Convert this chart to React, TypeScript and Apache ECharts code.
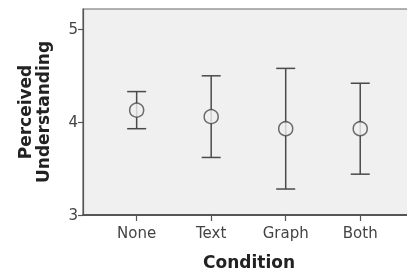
import React, { useEffect, useRef } from "react";
import * as echarts from "echarts";

const categories = ["None", "Text", "Graph", "Both"];
const means = [4.13, 4.06, 3.93, 3.93];
const upper = [4.33, 4.5, 4.58, 4.42];
const lower = [3.93, 3.62, 3.28, 3.44];
const yTicks = [3, 4, 5];
const xPositions = [1, 2, 3, 4];

export default function App() {
  const ref = useRef<HTMLDivElement>(null);
  useEffect(() => {
    if (!ref.current) return;
    const chart = echarts.init(ref.current, null, { renderer: "svg" });
    const font = "DejaVu Sans";
    const axisColor = "#555";
    chart.setOption({
      animation: false,
      grid: {
        left: 83,
        right: 5,
        top: 9,
        bottom: 57,
        outerBoundsMode: "none",
        containLabel: false,
        show: true,
        backgroundColor: "#f0f0f0",
        borderColor: "#666",
        borderWidth: 1.2,
      },
      xAxis: {
        type: "value",
        min: 0.28,
        max: 4.735,
        name: "Condition",
        nameLocation: "middle",
        nameGap: 38,
        nameTextStyle: { fontFamily: font, fontWeight: "bold", fontSize: 17, color: "#222" },
        axisLine: { show: true, lineStyle: { color: axisColor, width: 2 } },
        axisTick: { show: true, customValues: xPositions, length: 6, lineStyle: { color: axisColor, width: 1.2 } },
        axisLabel: {
          customValues: xPositions,
          formatter: (v: number) => categories[Math.round(v) - 1] ?? "",
          fontFamily: font,
          fontSize: 15,
          color: "#444",
          margin: 10,
        },
        splitLine: { show: false },
      },
      yAxis: {
        type: "value",
        min: 3,
        max: 5.22,
        name: "Perceived\nUnderstanding",
        nameLocation: "middle",
        nameGap: 31,
        nameTextStyle: { fontFamily: font, fontWeight: "bold", fontSize: 17, color: "#222", lineHeight: 18 },
        axisLine: { show: true, lineStyle: { color: axisColor, width: 1.2 } },
        axisTick: { show: true, customValues: yTicks, length: 5, lineStyle: { color: axisColor, width: 1.2 } },
        axisLabel: {
          customValues: yTicks,
          fontFamily: font,
          fontSize: 15,
          color: "#444",
          margin: 5,
        },
        splitLine: { show: false },
      },
      series: [
        {
          type: "custom",
          data: xPositions.map((x, i) => [x, lower[i], upper[i]]),
          renderItem: (params: any, api: any) => {
            const x = api.value(0);
            const lo = api.coord([x, api.value(1)]);
            const hi = api.coord([x, api.value(2)]);
            const half = 9.5;
            const style = { stroke: "#4a4a4a", lineWidth: 1.5 };
            return {
              type: "group",
              children: [
                { type: "line", shape: { x1: lo[0], y1: lo[1], x2: hi[0], y2: hi[1] }, style },
                { type: "line", shape: { x1: hi[0] - half, y1: hi[1], x2: hi[0] + half, y2: hi[1] }, style },
                { type: "line", shape: { x1: lo[0] - half, y1: lo[1], x2: lo[0] + half, y2: lo[1] }, style },
              ],
            };
          },
          z: 2,
        },
        {
          type: "scatter",
          data: xPositions.map((x, i) => [x, means[i]]),
          symbol: "circle",
          symbolSize: 14,
          itemStyle: { color: "#f0f0f0", borderColor: "#4a4a4a", borderWidth: 1.5 },
          z: 3,
        },
      ],
    });
    return () => chart.dispose();
  }, []);
  return (
    <div style={{ position: "fixed", left: 0, top: 0, width: 407, height: 272, overflow: "hidden" }}>
      <div ref={ref} style={{ width: 420, height: 272 }} />
    </div>
  );
}
